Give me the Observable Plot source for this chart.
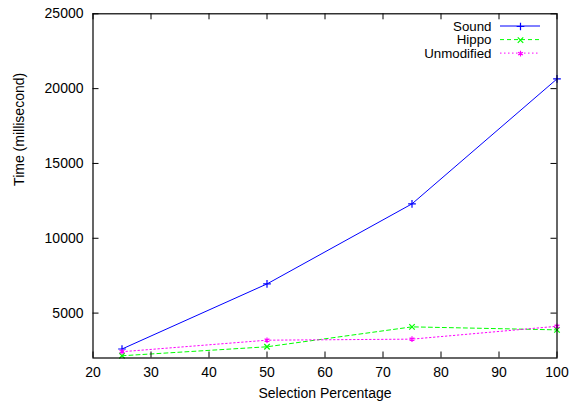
<!DOCTYPE html>
<html>
<head>
<meta charset="utf-8">
<script src="https://cdn.jsdelivr.net/npm/d3@7"></script>
<script src="https://cdn.jsdelivr.net/npm/@observablehq/plot@0.6"></script>
<style>
  html, body { margin: 0; padding: 0; background: #fff; }
</style>
</head>
<body>
<div id="chart"></div>
<script>
const percentages = [25, 50, 75, 100];
const sound = [2600, 6950, 12300, 20650];
const hippo = [2150, 2750, 4080, 3880];
const unmodified = [2420, 3190, 3260, 4120];
const seriesNames = ["Sound", "Hippo", "Unmodified"];
const seriesValues = [sound, hippo, unmodified];
const xTicks = [20, 30, 40, 50, 60, 70, 80, 90, 100];
const yTicks = [5000, 10000, 15000, 20000, 25000];
const xLabel = "Selection Percentage";
const yLabel = "Time (millisecond)";

const colors = {Sound: "#0000ff", Hippo: "#00ff00", Unmodified: "#ff00ff"};
const dashes = {Sound: null, Hippo: "4,3", Unmodified: "1.5,2.5"};
const symbols = {Sound: "plus", Hippo: "times", Unmodified: "asterisk"};

const data = [];
seriesNames.forEach((name, si) => {
  percentages.forEach((p, i) => data.push({series: name, x: p, y: seriesValues[si][i]}));
});

const W = 582, H = 403;
const mL = 92.5, mR = 25.5, mT = 13.3, mB = 45.5;
const plotW = W - mL - mR, plotH = H - mT - mB;
const tick = 6;
const fs = 14;
const legendFs = 13.3;

const marks = [];
seriesNames.forEach(name => {
  const d = data.filter(r => r.series === name);
  marks.push(Plot.line(d, {x: "x", y: "y", stroke: colors[name], strokeWidth: 1, strokeDasharray: dashes[name]}));
  marks.push(Plot.dot(d, {x: "x", y: "y", stroke: colors[name], symbol: symbols[name], r: 2.6, strokeWidth: 1.2}));
});

// inward ticks on all four sides
marks.push(Plot.tickX(xTicks, {x: d => d, insetTop: plotH - tick, stroke: "black"}));
marks.push(Plot.tickX(xTicks, {x: d => d, insetBottom: plotH - tick, stroke: "black"}));
marks.push(Plot.tickY(yTicks, {y: d => d, insetRight: plotW - tick, stroke: "black"}));
marks.push(Plot.tickY(yTicks, {y: d => d, insetLeft: plotW - tick, stroke: "black"}));
marks.push(Plot.frame({stroke: "black", strokeWidth: 1.2}));

marks.push(Plot.axisX({ticks: xTicks, tickSize: 0, tickPadding: 9, label: null, fontSize: fs}));
marks.push(Plot.axisY({ticks: yTicks, tickSize: 0, tickPadding: 9.5, label: null, fontSize: fs, tickFormat: d => String(d)}));

marks.push(Plot.text([xLabel], {text: d => d, frameAnchor: "bottom", dy: 35.5, lineAnchor: "middle", fontSize: fs}));
marks.push(Plot.text([yLabel], {text: d => d, frameAnchor: "left", dx: -73.5, rotate: -90, lineAnchor: "middle", fontSize: fs}));

// legend (top-right inside the frame)
const legendRows = seriesNames.map((name, i) => ({name, row: i}));
const rowDy = [12.7, 26.3, 39.8];
legendRows.forEach(r => {
  marks.push(Plot.text([r.name], {text: d => d, frameAnchor: "top-right", dx: -65.5, dy: rowDy[r.row], textAnchor: "end", lineAnchor: "middle", fontSize: legendFs}));
});
marks.push(function legendLines() {
  const g = d3.create("svg:g");
  legendRows.forEach(r => {
    const y = mT + rowDy[r.row];
    g.append("line")
      .attr("x1", W - mR - 56.5).attr("x2", W - mR - 16.5)
      .attr("y1", y).attr("y2", y)
      .attr("stroke", colors[r.name]).attr("stroke-width", 1)
      .attr("stroke-dasharray", dashes[r.name]);
  });
  return g.node();
});
legendRows.forEach(r => {
  marks.push(Plot.dot([r.name], {frameAnchor: "top-right", dx: -36.5, dy: rowDy[r.row], stroke: colors[r.name], symbol: symbols[r.name], r: 2.6, strokeWidth: 1.2}));
});

const chart = Plot.plot({
  width: W,
  height: H,
  marginLeft: mL,
  marginRight: mR,
  marginTop: mT,
  marginBottom: mB,
  style: {fontFamily: "'Liberation Sans', Arial, sans-serif", fontSize: fs + "px", color: "black", background: "white"},
  x: {domain: [20, 100]},
  y: {domain: [2000, 25000]},
  marks
});
document.getElementById("chart").appendChild(chart);
</script>
</body>
</html>
